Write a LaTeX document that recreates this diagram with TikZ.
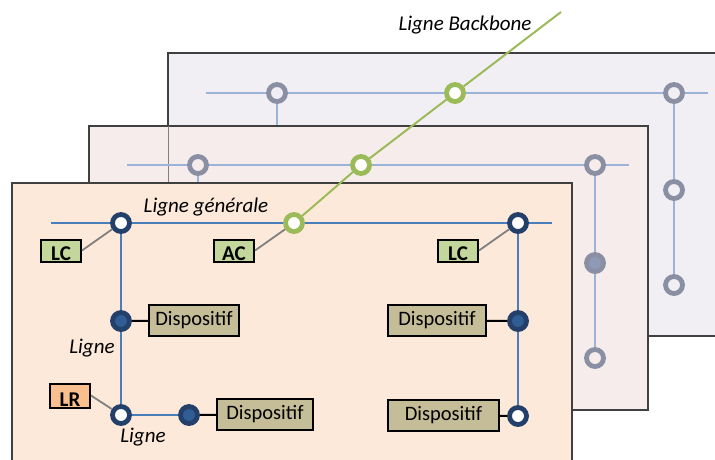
\documentclass[tikz,border=0pt]{standalone}
\usepackage{fontspec}
\setmainfont{Carlito}
\definecolor{backfill}{HTML}{F2EFF4}
\definecolor{midfill}{HTML}{F6ECEC}
\definecolor{frontfill}{HTML}{FDE9DA}
\definecolor{panelborder}{HTML}{404040}
\definecolor{lightline}{HTML}{9CB3D8}
\definecolor{grayring}{HTML}{8A8FA3}
\definecolor{grayfill}{HTML}{8E9AB6}
\definecolor{greenc}{HTML}{9BBB59}
\definecolor{blueline}{HTML}{4A7EBB}
\definecolor{darkring}{HTML}{23406B}
\definecolor{dotblue}{HTML}{2F5D94}
\definecolor{lcfill}{HTML}{C3D69B}
\definecolor{lrfill}{HTML}{FABF8F}
\definecolor{dispfill}{HTML}{C4BD97}
\definecolor{connector}{HTML}{808080}
\begin{document}
\begin{tikzpicture}[x=1pt,y=-1pt,
  panel/.style={draw=panelborder,line width=1.3pt},
  ringnode/.style={circle,inner sep=0pt,minimum size=17pt,line width=4.8pt},
  opendot/.style={ringnode,draw=darkring,fill=white},
  filleddot/.style={ringnode,draw=darkring,fill=dotblue},
  greendot/.style={ringnode,draw=greenc,fill=white},
  graydot/.style={ringnode,draw=grayring,fill=#1},
  lightlink/.style={draw=lightline,line width=2pt},
  bluelink/.style={draw=blueline,line width=2.2pt},
  backbone/.style={draw=greenc,line width=2pt},
  graylink/.style={draw=connector,line width=1.8pt},
  blacklink/.style={draw=black,line width=2pt},
  tagbox/.style={draw=black,line width=2pt,inner xsep=0pt,inner ysep=0pt,
     minimum width=40pt,text depth=1pt,font=\fontsize{21}{24}\selectfont\bfseries},
  dispbox/.style={draw=black,line width=2pt,fill=dispfill,inner sep=0pt,
     minimum height=31pt,font=\fontsize{20.5}{24}\selectfont},
  lbl/.style={font=\fontsize{21}{24}\selectfont\itshape,inner sep=0pt}
]
\useasboundingbox (0,0) rectangle (715,459);
\clip (0,0) rectangle (715,459);

% ---------- back panel ----------
\draw[panel,fill=backfill] (168,53) rectangle (740,336);
\coordinate (bL) at (206,93);
\coordinate (bRend) at (708,93);
\coordinate (bV) at (277,135);
\coordinate (gTop) at (561,12);
\node[graydot=backfill] (b1) at (277,93) {};
\node[greendot] (b2) at (455,93) {};
\node[graydot=backfill] (b3) at (674,93) {};
\node[graydot=backfill] (b4) at (674,190) {};
\node[graydot=backfill] (b5) at (674,285) {};
\draw[lightlink] (bL) -- (b1);
\draw[lightlink] (b1) -- (b2);
\draw[lightlink] (b2) -- (b3);
\draw[lightlink] (b3) -- (bRend);
\draw[lightlink] (b1) -- (bV);
\draw[lightlink] (b3) -- (b4);
\draw[lightlink] (b4) -- (b5);
\draw[backbone] (gTop) -- (b2);
\node[lbl] (lblBackbone) at (465,25) {Ligne Backbone};

% ---------- middle panel ----------
\draw[panel,fill=midfill] (89,126) rectangle (648,410);
\draw[draw=connector,line width=0.6pt] (168,126) -- (168,183);
\coordinate (mL) at (127,165);
\coordinate (mRend) at (629,165);
\coordinate (mV) at (198,195);
\node[graydot=midfill] (m1) at (198,165) {};
\node[greendot] (m2) at (361,165) {};
\node[graydot=midfill] (m3) at (595,165) {};
\node[graydot=grayfill] (m4) at (595,263) {};
\node[graydot=midfill] (m5) at (595,358) {};
\draw[lightlink] (mL) -- (m1);
\draw[lightlink] (m1) -- (m2);
\draw[lightlink] (m2) -- (m3);
\draw[lightlink] (m3) -- (mRend);
\draw[lightlink] (m1) -- (mV);
\draw[lightlink] (m3) -- (m4);
\draw[lightlink] (m4) -- (m5);
\draw[backbone] (b2) -- (m2);

% ---------- front panel ----------
\draw[panel,fill=frontfill] (12,183) rectangle (572,480);
\coordinate (fL) at (51,223);
\coordinate (fRend) at (552,223);
\node[opendot] (fA) at (121,223) {};
\node[greendot] (fAC) at (294,223) {};
\node[opendot] (fR) at (518,223) {};
\node[filleddot] (fD1) at (121,321) {};
\node[opendot] (fB) at (121,415) {};
\node[filleddot] (fD2) at (189,415) {};
\node[filleddot] (fD3) at (518,321) {};
\node[opendot] (fE) at (518,416) {};
\draw[bluelink] (fL) -- (fA);
\draw[bluelink] (fA) -- (fAC);
\draw[bluelink] (fAC) -- (fR);
\draw[bluelink] (fR) -- (fRend);
\draw[bluelink] (fA) -- (fD1);
\draw[bluelink] (fD1) -- (fB);
\draw[bluelink] (fB) -- (fD2);
\draw[bluelink] (fR) -- (fD3);
\draw[bluelink] (fD3) -- (fE);
\draw[backbone] (m2) -- (fAC);

% tag boxes
\node[tagbox,fill=lcfill,text height=21pt] (lc1) at (61,250.5) {LC};
\node[tagbox,fill=lcfill,text height=21pt] (ac) at (234,250.5) {AC};
\node[tagbox,fill=lcfill,text height=21pt] (lc2) at (458,250.5) {LC};
\node[tagbox,fill=lrfill,text height=23pt] (lr) at (70,395.5) {LR};
\draw[graylink] (lc1.east) -- (fA);
\draw[graylink] (ac.east) -- (fAC);
\draw[graylink] (lc2.east) -- (fR);
\draw[graylink] (lr.east) -- (fB);

% device boxes
\node[dispbox,minimum width=90pt] (d1) at (194,320.5) {Dispositif};
\node[dispbox,minimum width=96pt] (d2) at (265,414.5) {Dispositif};
\node[dispbox,minimum width=98pt] (d3) at (437,320.5) {Dispositif};
\node[dispbox,minimum width=111pt] (d4) at (443.5,415) {Dispositif};
\draw[blacklink] (fD1) -- (d1);
\draw[blacklink] (fD2) -- (d2);
\draw[blacklink] (fD3) -- (d3);
\draw[blacklink] (fE) -- (d4);

% labels
\node[lbl] (lblGen) at (206,207) {Ligne générale};
\node[lbl] (lblL1) at (92,348) {Ligne};
\node[lbl] (lblL2) at (143,437) {Ligne};
\end{tikzpicture}
\end{document}
